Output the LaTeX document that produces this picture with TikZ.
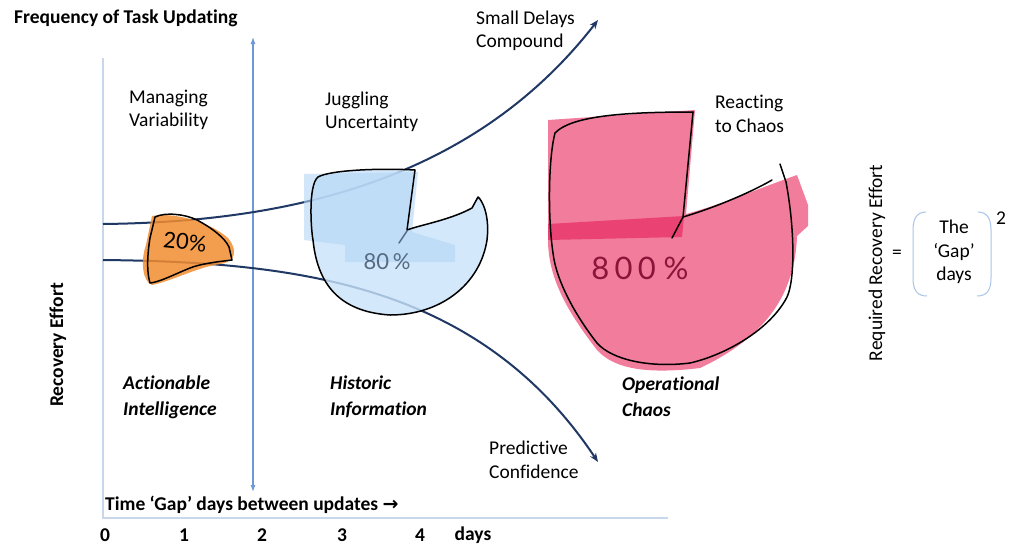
\documentclass[tikz,border=0pt]{standalone}
\usepackage{fontspec}
\setmainfont{Carlito}[Ligatures=NoCommon]
\newfontfamily\hand{Lato}
\usetikzlibrary{arrows.meta}
\definecolor{navy}{HTML}{1F3864}
\definecolor{axisblue}{HTML}{C9D7EC}
\definecolor{arrowblue}{HTML}{6E98D8}
\definecolor{orangefill}{HTML}{F28C30}
\definecolor{bluefill}{HTML}{C9E3FA}
\definecolor{bluefilltop}{HTML}{B3D6F5}
\definecolor{pinkfill}{HTML}{F27C9C}
\definecolor{pinkband}{HTML}{EB4274}
\definecolor{bracketblue}{HTML}{A9C4EA}
\definecolor{handblue}{HTML}{566A82}
\definecolor{handred}{HTML}{8A1538}
\begin{document}
\begin{tikzpicture}[x=1pt,y=-1pt,
  lbl/.style={font=\fontsize{19.5}{23.5}\selectfont, align=left, anchor=west, inner sep=0pt},
  boldlbl/.style={font=\fontsize{19.5}{23.5}\selectfont\bfseries, align=left, anchor=west, inner sep=0pt},
  bilbl/.style={font=\fontsize{19.5}{26}\selectfont\bfseries\itshape, align=left, anchor=west, inner sep=0pt},
  trend/.style={navy, line width=2pt, -{Stealth[length=9pt,width=7pt]}},
  blobline/.style={black, line width=1.5pt, line join=round, line cap=round},
  brk/.style={bracketblue, line width=1pt}]
\useasboundingbox (0,0) rectangle (1024,558);
\fill[white] (0,0) rectangle (1024,558);

% axes
\coordinate (yaxtop) at (103,58);
\coordinate (origin) at (103,518);
\coordinate (xaxend) at (668,518);
\draw[axisblue, line width=1.5pt] (yaxtop) -- (origin) -- (xaxend);

% update-frequency arrow
\coordinate (ut) at (253,37);
\coordinate (ub) at (253,492);
\draw[arrowblue, line width=1.2pt, {Latex[length=7pt,width=5pt]}-{Latex[length=7pt,width=5pt]}] (ut) -- (ub);

% trend curves
\coordinate (us) at (103,224);
\coordinate (ue) at (598,20);
\coordinate (ls) at (103,260);
\coordinate (le) at (598,462);
\draw[trend] (us) .. controls (280,222) and (470,185) .. (ue);
\draw[trend] (ls) .. controls (300,262) and (480,285) .. (le);

% orange blob
\fill[orangefill, fill opacity=0.85] (152,216) .. controls (175,212) and (210,222) .. (228,238) .. controls (238,250) and (236,262) .. (220,264) .. controls (195,268) and (175,280) .. (152,285) .. controls (143,282) and (140,262) .. (146,245) -- cycle;
\draw[blobline] (155,217) .. controls (165,212) and (185,214) .. (197,220) .. controls (212,228) and (225,238) .. (229,247) -- (232,260) .. controls (215,262) and (200,264) .. (190,268) .. controls (175,274) and (160,282) .. (150,283) .. controls (146,270) and (148,250) .. (150,238) -- cycle;
\node[font=\hand\fontsize{22}{22}\selectfont, rotate=-6] (p20) at (185,242) {20\%};

% blue blob
\fill[bluefill, fill opacity=0.8] (415,170) .. controls (380,168) and (330,170) .. (318,177) .. controls (308,185) and (311,230) .. (313,240) .. controls (318,290) and (345,312) .. (390,315) .. controls (440,315) and (480,285) .. (487,240) .. controls (490,215) and (482,200) .. (478,197) -- (472,208) .. controls (450,220) and (420,225) .. (407,230) -- cycle;
\fill[bluefilltop, fill opacity=0.6] (304,174) -- (418,172) -- (412,232) -- (455,245) -- (455,262) -- (345,262) -- (345,245) -- (304,240) -- cycle;
\draw[blobline] (415,170) .. controls (380,168) and (330,170) .. (318,177) .. controls (308,185) and (311,230) .. (313,240) .. controls (318,290) and (345,312) .. (390,315) .. controls (440,315) and (480,285) .. (487,240) .. controls (490,215) and (482,200) .. (478,197) -- (472,208) .. controls (450,220) and (420,225) .. (407,230) -- cycle;
\draw[blobline, handblue] (407,231) -- (399,243);
\node[font=\hand\fontsize{22}{22}\selectfont, text=handblue] (p80) at (387,262) {80\,\%};

% pink blob
\fill[pinkfill] (548,120) -- (695,110) -- (686,214) .. controls (720,205) and (760,188) .. (797,175) -- (808,205) -- (808,226) -- (797,236) .. controls (795,290) and (770,335) .. (700,368) .. controls (650,374) and (615,370) .. (597,350) .. controls (570,315) and (548,280) .. (548,240) -- cycle;
\fill[pinkband] (548,224) -- (684,216) -- (682,237) -- (548,240) -- cycle;
\draw[blobline] (693,112) -- (683,217) .. controls (720,206) and (755,190) .. (772,180);
\draw[blobline] (683,217) -- (672,238);
\draw[blobline] (780,164) -- (786,182) .. controls (795,230) and (795,280) .. (787,297) .. controls (770,330) and (725,355) .. (690,363) .. controls (650,368) and (612,360) .. (597,343) .. controls (575,315) and (556,280) .. (553,253) .. controls (548,220) and (548,160) .. (555,133) .. controls (572,115) and (630,112) .. (693,112);
\node[font=\hand\fontsize{31}{31}\selectfont, text=handred] (p800) at (640,268) {8\,0\,0\ \%};

% labels
\node[boldlbl] (title) at (14,18) {Frequency of Task Updating};
\node[lbl] (manage) at (129,110) {Managing\\Variability};
\node[lbl] (juggle) at (325,112) {Juggling\\Uncertainty};
\node[lbl] (delays) at (476,31) {Small Delays\\Compound};
\node[lbl] (react) at (715,114) {Reacting\\to Chaos};
\node[lbl] (predict) at (489,460) {Predictive\\Confidence};
\node[bilbl] (act) at (123,397) {Actionable\\Intelligence};
\node[bilbl] (hist) at (330,397) {Historic\\Information};
\node[bilbl] (chaos) at (622,397) {Operational\\Chaos};
\node[boldlbl, rotate=90, anchor=center] (recov) at (58,345) {Recovery Effort};
\node[boldlbl] (timegap) at (105,505) {Time ‘Gap’ days between updates \fontspec{DejaVu Sans}\fontsize{19}{19}\selectfont→};
\node[boldlbl, anchor=center] (d0) at (105,535) {0};
\node[boldlbl, anchor=center] (d1) at (184,535) {1};
\node[boldlbl, anchor=center] (d2) at (262,535) {2};
\node[boldlbl, anchor=center] (d3) at (342,535) {3};
\node[boldlbl, anchor=center] (d4) at (420,535) {4};
\node[boldlbl, anchor=center] (days) at (473,535) {days};

% formula
\node[lbl, rotate=90, anchor=center] (req) at (877,263) {Required Recovery Effort};
\node[lbl, anchor=center] (eq) at (897,254) {=};
\node[lbl, anchor=center, align=center] (gap) at (954,252) {The\\‘Gap’\\days};
\node[lbl, anchor=center] (sq) at (1001,218) {2};
\draw[brk] (926,212) .. controls (916,212) and (913,220) .. (913,230) -- (913,278) .. controls (913,290) and (917,296) .. (927,296);
\draw[brk] (978,212) .. controls (988,212) and (991,220) .. (991,230) -- (991,278) .. controls (991,290) and (987,296) .. (977,296);
\end{tikzpicture}
\end{document}
